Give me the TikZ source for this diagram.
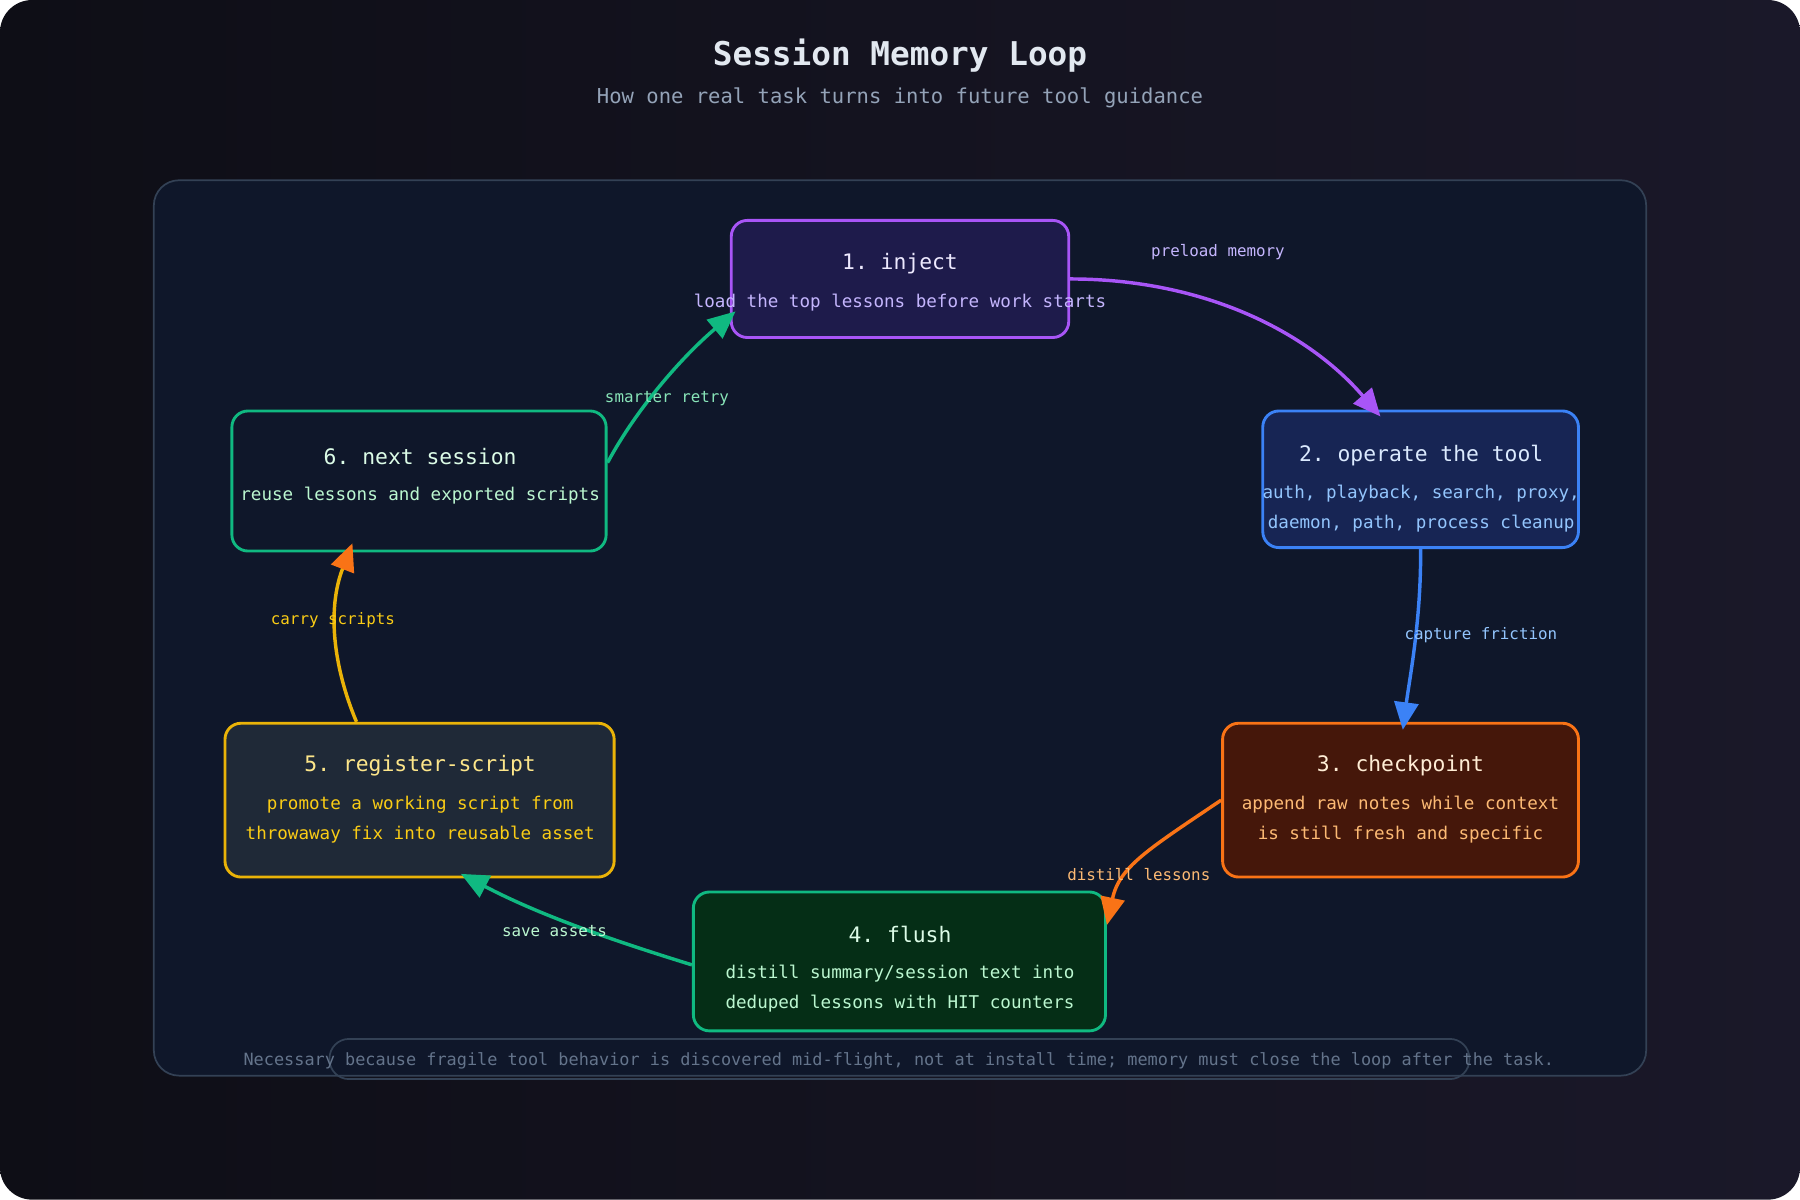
\documentclass[tikz,border=0pt]{standalone}
\usepackage{fontspec}
\setmonofont{DejaVu Sans Mono}
\usetikzlibrary{arrows.meta,calc}
\definecolor{bgA}{HTML}{0E0E16}
\definecolor{bgB}{HTML}{1A1829}
\definecolor{panel}{HTML}{0F172A}
\definecolor{panelb}{HTML}{334155}
\definecolor{foot}{HTML}{64748B}
\definecolor{pu}{HTML}{A855F7}\definecolor{puF}{HTML}{1E1B4B}\definecolor{puT}{HTML}{EDE9FE}\definecolor{puS}{HTML}{C4B5FD}
\definecolor{bl}{HTML}{3B82F6}\definecolor{blF}{HTML}{172554}\definecolor{blT}{HTML}{DBEAFE}\definecolor{blS}{HTML}{93C5FD}
\definecolor{or}{HTML}{F97316}\definecolor{orF}{HTML}{45170A}\definecolor{orT}{HTML}{FFEDD5}\definecolor{orS}{HTML}{FDBA74}
\definecolor{gr}{HTML}{10B981}\definecolor{grF}{HTML}{052E16}\definecolor{grT}{HTML}{DCFCE7}\definecolor{grS}{HTML}{BBF7D0}
\definecolor{ye}{HTML}{EAB308}\definecolor{yeF}{HTML}{1F2937}\definecolor{yeT}{HTML}{FDE68A}\definecolor{yeS}{HTML}{FACC15}
\definecolor{tiT}{HTML}{E2E8F0}\definecolor{tiS}{HTML}{94A3B8}
\begin{document}
\begin{tikzpicture}[x=1pt,y=-1pt,
  box/.style={draw,line width=2.5pt,rounded corners=14pt,inner sep=0pt},
  ttl/.style={font=\ttfamily\fontsize{18.6}{20}\selectfont},
  sub/.style={font=\ttfamily\fontsize{15.3}{26}\selectfont,align=center},
  lab/.style={font=\ttfamily\fontsize{13.8}{15}\selectfont},
  arr/.style={line width=3pt,-{Triangle[length=24pt,width=21pt]}}]
\shade[left color=bgA,right color=bgB,rounded corners=28pt] (0,0) rectangle (1568,1045);
\useasboundingbox (0,0) rectangle (1568,1045);
\node[font=\ttfamily\bfseries\fontsize{28.5}{30}\selectfont,text=tiT] (title) at (784,48) {Session Memory Loop};
\node[font=\ttfamily\fontsize{17.9}{20}\selectfont,text=tiS] (subt) at (784,85) {How one real task turns into future tool guidance};
\draw[panelb,fill=panel,line width=1.5pt,rounded corners=22pt] (134,157) rectangle (1434,937);
% boxes
\node[box,draw=pu,fill=puF,minimum width=294pt,minimum height=102pt] (n1) at (784,243) {};
\node[box,draw=bl,fill=blF,minimum width=275pt,minimum height=119pt] (n2) at (1237.5,417.5) {};
\node[box,draw=or,fill=orF,minimum width=310pt,minimum height=134pt] (n3) at (1220,697) {};
\node[box,draw=gr,fill=grF,minimum width=359pt,minimum height=121pt] (n4) at (783.5,837.5) {};
\node[box,draw=ye,fill=yeF,minimum width=339pt,minimum height=134pt] (n5) at (365.5,697) {};
\node[box,draw=gr,fill=panel,minimum width=326pt,minimum height=122pt] (n6) at (365,419) {};
% texts
\node[ttl,text=puT] (t1) at (784,230) {1. inject};
\node[sub,text=puS] (s1) at (784,264) {load the top lessons before work starts};
\node[ttl,text=blT] (t2) at (1238,397) {2. operate the tool};
\node[sub,text=blS] (s2) at (1238,443) {auth, playback, search, proxy,\\daemon, path, process cleanup};
\node[ttl,text=orT] (t3) at (1220,667) {3. checkpoint};
\node[sub,text=orS] (s3) at (1220,714) {append raw notes while context\\is still fresh and specific};
\node[ttl,text=grT] (t4) at (784,814) {4. flush};
\node[sub,text=grS] (s4) at (784,861) {distill summary/session text into\\deduped lessons with HIT counters};
\node[ttl,text=yeT] (t5) at (366,667) {5. register-script};
\node[sub,text=yeS] (s5) at (366,714) {promote a working script from\\throwaway fix into reusable asset};
\node[ttl,text=grT] (t6) at (366,398) {6. next session};
\node[sub,text=grS] (s6) at (366,432) {reuse lessons and exported scripts};
% arrows
\draw[arr,pu] (n1.east) .. controls (1050,243) and (1140,290) .. ([xshift=-35pt,yshift=-6pt]n2.north);
\draw[arr,bl] (n2.south) .. controls (1238,540) and (1228,590) .. ([xshift=2pt,yshift=-7pt]n3.north);
\draw[arr,or] (n3.west) .. controls (1000,740) and (975,755) .. ([xshift=0pt,yshift=-30pt]n4.north east);
\draw[arr,gr] ([yshift=-3pt]n4.west) .. controls (530,818) and (470,797) .. ([xshift=36pt,yshift=4pt]n5.south);
\draw[line width=3pt,ye,-{Triangle[length=24pt,width=21pt,color=or,fill=or]}] ([xshift=-55pt]n5.north) .. controls (290,580) and (285,530) .. ([xshift=-58pt,yshift=8pt]n6.south);
\draw[arr,gr] ([yshift=16pt]n6.east) .. controls (555,355) and (595,310) .. ([xshift=5pt,yshift=24pt]n1.south west);
% edge labels
\node[lab,text=puS] (l1) at (1061,220) {preload memory};
\node[lab,text=blS] (l2) at (1290,553) {capture friction};
\node[lab,text=orS] (l3) at (992,762) {distill lessons};
\node[lab,text=grS] (l4) at (483,811) {save assets};
\node[lab,text=yeS] (l5) at (290,540) {carry scripts};
\node[lab,text=grS!70!gr] (l6) at (581,347) {smarter retry};
% footer
\draw[panelb,line width=1.5pt,rounded corners=17pt] (287,905) rectangle (1280,940);
\node[font=\ttfamily\fontsize{14.7}{16}\selectfont,text=foot] (ft) at (783,924) {Necessary because fragile tool behavior is discovered mid-flight, not at install time; memory must close the loop after the task.};
\end{tikzpicture}
\end{document}
